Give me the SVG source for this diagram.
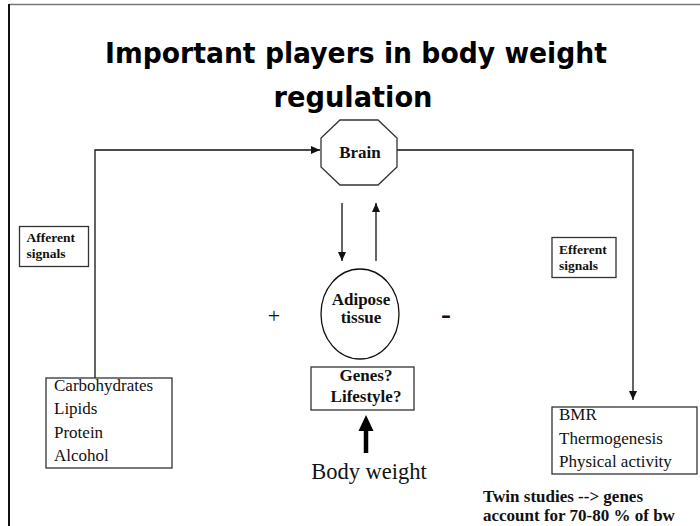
<svg xmlns="http://www.w3.org/2000/svg" width="700" height="526" viewBox="0 0 700 526">
<defs>
<style>
.ln{fill:none;stroke:#111;stroke-width:1.3}
.box{fill:#fff;stroke:#333;stroke-width:1.3}
.b{font-family:"Liberation Serif","Times New Roman",serif;font-weight:bold;fill:#111}
.r{font-family:"Liberation Serif","Times New Roman",serif;fill:#111}
.t{font-family:"DejaVu Sans",sans-serif;font-weight:bold;fill:#000;font-size:28px}
</style>
<marker id="ah" markerWidth="10" markerHeight="10" refX="9" refY="4" orient="auto" markerUnits="userSpaceOnUse">
<path d="M0,0 L9,4 L0,8 Z" fill="#111"/>
</marker>
</defs>
<rect width="700" height="526" fill="#fff"/>
<g id="frame">
<line x1="9" y1="4.5" x2="700" y2="4.5" stroke="#777" stroke-width="1.5"/>
<line x1="9" y1="4" x2="9" y2="526" stroke="#111" stroke-width="2"/>
</g>
<g id="title">
<text class="t" x="356" y="63" text-anchor="middle" textLength="502" lengthAdjust="spacingAndGlyphs">Important players in body weight</text>
<text class="t" x="353" y="107" text-anchor="middle" textLength="159" lengthAdjust="spacingAndGlyphs">regulation</text>
</g>
<g id="connectors">
<polyline class="ln" points="95,378 95,150 320,150" marker-end="url(#ah)"/>
<polyline class="ln" points="397,150 633,150 633,400" stroke="#333" marker-end="url(#ah)"/>
<line class="ln" x1="342" y1="203" x2="342" y2="261" marker-end="url(#ah)"/>
<line class="ln" x1="376" y1="261" x2="376" y2="203" stroke="#444" marker-end="url(#ah)"/>
<line x1="366" y1="453" x2="366" y2="428" stroke="#000" stroke-width="4.5"/>
<polygon points="358.5,431 373.5,431 366,415" fill="#000"/>
</g>
<g id="brain">
<polygon class="box" points="340,120 378,120 397,138 397,167 378,185 340,185 321,167 321,138" stroke="#111" stroke-width="1.6"/>
<text class="b" x="360" y="158" font-size="17" text-anchor="middle">Brain</text>
</g>
<g id="afferent">
<rect class="box" x="19.5" y="226.5" width="69" height="40"/>
<text class="b" x="26.5" y="242" font-size="13.5">Afferent</text>
<text class="b" x="26.5" y="258" font-size="13.5">signals</text>
</g>
<g id="efferent">
<rect class="box" x="552" y="237.5" width="64" height="40"/>
<text class="b" x="559" y="254" font-size="13.5">Efferent</text>
<text class="b" x="559" y="270" font-size="13.5">signals</text>
</g>
<g id="adipose">
<ellipse cx="360" cy="314" rx="39" ry="45" fill="#fff" stroke="#111" stroke-width="1.3"/>
<text class="b" x="361" y="305" font-size="17" text-anchor="middle">Adipose</text>
<text class="b" x="361" y="323" font-size="17" text-anchor="middle">tissue</text>
</g>
<g id="signs">
<text class="r" x="274" y="323" font-size="22" text-anchor="middle">+</text>
<text class="b" x="446" y="324" font-size="30" text-anchor="middle">-</text>
</g>
<g id="genes">
<rect class="box" x="311" y="367" width="103" height="43"/>
<text class="b" x="366" y="381" font-size="17" text-anchor="middle">Genes?</text>
<text class="b" x="366" y="402" font-size="17" text-anchor="middle">Lifestyle?</text>
</g>
<g id="bodyweight">
<text class="r" x="369" y="479" font-size="22.5" text-anchor="middle">Body weight</text>
</g>
<g id="intake">
<rect class="box" x="46" y="378" width="126" height="90"/>
<text class="r" x="54" y="391" font-size="17">Carbohydrates</text>
<text class="r" x="54" y="414" font-size="17">Lipids</text>
<text class="r" x="54" y="438" font-size="17">Protein</text>
<text class="r" x="54" y="461" font-size="17">Alcohol</text>
</g>
<g id="expenditure">
<rect class="box" x="552" y="407" width="145" height="67"/>
<text class="r" x="559" y="420" font-size="17">BMR</text>
<text class="r" x="559" y="444" font-size="17">Thermogenesis</text>
<text class="r" x="559" y="467" font-size="17">Physical activity</text>
</g>
<g id="note">
<text class="b" x="483" y="502" font-size="17">Twin studies --&gt; genes</text>
<text class="b" x="483" y="521" font-size="17">account for 70-80 % of bw</text>
</g>
</svg>
